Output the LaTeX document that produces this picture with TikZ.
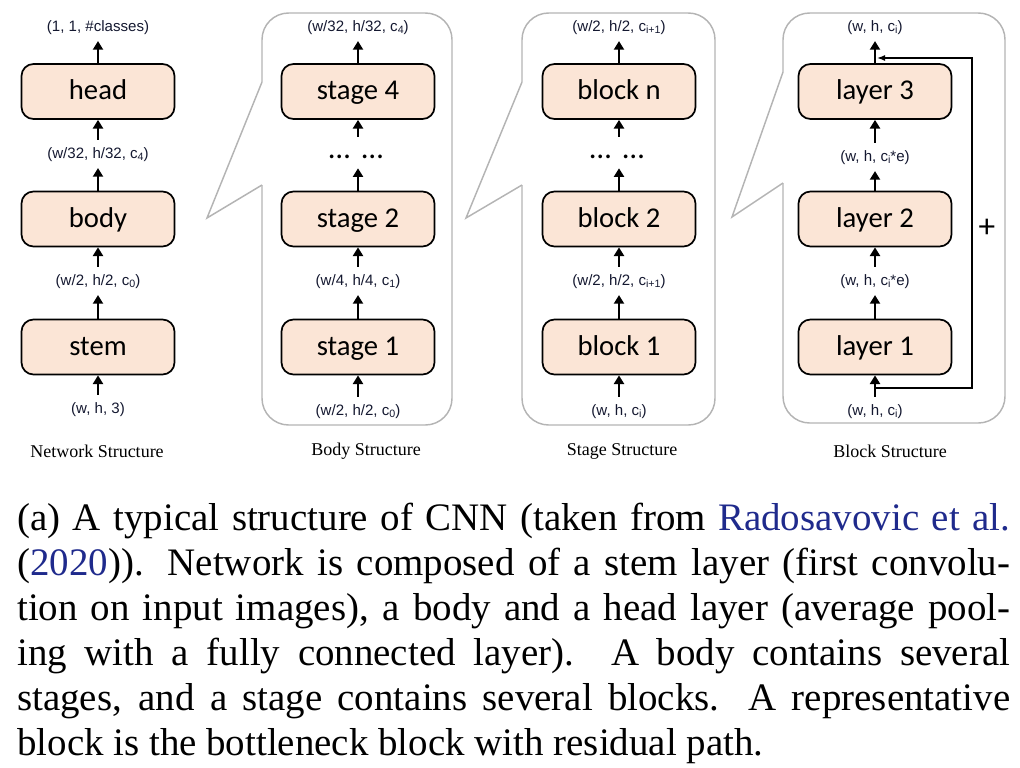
\documentclass[tikz,border=0pt]{standalone}
\usepackage{fontspec}
\setmainfont{Liberation Serif}
\newfontfamily\boxfont{Carlito}
\newfontfamily\labfont{Liberation Sans}
\usetikzlibrary{arrows.meta}
\definecolor{boxfill}{HTML}{FBE5D6}
\definecolor{panelgray}{HTML}{B4B4B4}
\definecolor{labcol}{HTML}{141830}
\definecolor{citeblue}{HTML}{1F2A8C}
\newcommand\lsub[1]{\raisebox{-0.25ex}{\fontsize{8}{9}\selectfont #1}}
\begin{document}
\begin{tikzpicture}[x=0.75pt,y=-0.75pt,
  stagebox/.style={draw=black, line width=1.3pt, fill=boxfill, rounded corners=9pt,
    minimum width=114.75pt, minimum height=41.25pt, inner sep=0pt,
    text height=14pt, text depth=1.5pt,
    font=\boxfont\fontsize{21.5}{24}\selectfont},
  dimlabel/.style={inner sep=0pt, text height=8pt, text depth=2.2pt,
    font=\labfont\fontsize{11.3}{13}\selectfont, text=labcol},
  dotsnode/.style={inner sep=0pt, text height=6pt, text depth=0pt, anchor=base,
    font=\boxfont\fontsize{23}{26}\selectfont},
  flow/.style={line width=2.2pt, -{Triangle[width=7.5pt,length=6.5pt]}},
  fromlab/.style={shorten <=6pt},
  tolab/.style={shorten >=4.5pt},
  fromdots/.style={shorten <=9.75pt},
  todots/.style={shorten >=7.5pt},
  panel/.style={draw=panelgray, line width=1.1pt},
  resid/.style={line width=1.1pt, -{Latex[length=6pt,width=4.5pt]}},
  title/.style={inner sep=0pt, font=\fontsize{13.5}{16}\selectfont},
]
\useasboundingbox (0,0) rectangle (1020,767);

% ---------- panels ----------
\draw[panel, rounded corners=20pt] (262,82) -- (262,13) -- (452,13) -- (452,425) -- (262,425) -- (262,185);
\draw[panel, line join=miter] (262,185) -- (207,218) -- (262,82);
\draw[panel, rounded corners=20pt] (522,82) -- (522,13) -- (715,13) -- (715,425) -- (522,425) -- (522,185);
\draw[panel, line join=miter] (522,185) -- (466,218) -- (522,82);
\draw[panel, rounded corners=20pt] (783,72) -- (783,13) -- (1005,13) -- (1005,423) -- (783,423) -- (783,183);
\draw[panel, line join=miter] (783,183) -- (732,217) -- (783,72);

% ---------- network structure ----------
\node[stagebox] (head) at (98,91.5) {head};
\node[stagebox] (body) at (98,219) {body};
\node[stagebox] (stem) at (98,347) {stem};
\node[dimlabel] (n0) at (98,410) {(w, h, 3)};
\node[dimlabel] (n1) at (98,282) {(w/2, h/2, c\lsub{0})};
\node[dimlabel] (n2) at (98,155) {(w/32, h/32, c\lsub{4})};
\node[dimlabel] (n3) at (98,28) {(1, 1, \#classes)};
\draw[flow, fromlab] (n0) -- (stem);
\draw[flow, tolab] (stem) -- (n1);
\draw[flow, fromlab] (n1) -- (body);
\draw[flow, tolab] (body) -- (n2);
\draw[flow, fromlab] (n2) -- (head);
\draw[flow, tolab] (head) -- (n3);
\node[title] (t1) at (97,451) {Network Structure};

% ---------- body structure ----------
\node[stagebox] (s4) at (358,91.5) {stage 4};
\node[stagebox] (s2) at (358,219) {stage 2};
\node[stagebox] (s1) at (358,347) {stage 1};
\node[dimlabel] (b0) at (358,412) {(w/2, h/2, c\lsub{0})};
\node[dimlabel] (b1) at (358,282) {(w/4, h/4, c\lsub{1})};
\node[dotsnode] (bd) at (356,158) {\ldots\hspace{9pt}\ldots};
\node[dimlabel] (b3) at (358,28) {(w/32, h/32, c\lsub{4})};
\draw[flow, fromlab] (b0) -- (s1);
\draw[flow, tolab] (s1) -- (b1);
\draw[flow, fromlab] (b1) -- (s2);
\draw[flow, todots] (s2) -- (s2 |- bd.south);
\draw[flow, fromdots] (s4 |- bd.north) -- (s4);
\draw[flow, tolab] (s4) -- (b3);
\node[title] (t2) at (366,451) {Body Structure};

% ---------- stage structure ----------
\node[stagebox] (kn) at (619,91.5) {block n};
\node[stagebox] (k2) at (619,219) {block 2};
\node[stagebox] (k1) at (619,347) {block 1};
\node[dimlabel] (g0) at (619,412) {(w, h, c\lsub{i})};
\node[dimlabel] (g1) at (619,282) {(w/2, h/2, c\lsub{i+1})};
\node[dotsnode] (gd) at (617,158) {\ldots\hspace{9pt}\ldots};
\node[dimlabel] (g3) at (619,28) {(w/2, h/2, c\lsub{i+1})};
\draw[flow, fromlab] (g0) -- (k1);
\draw[flow, tolab] (k1) -- (g1);
\draw[flow, fromlab] (g1) -- (k2);
\draw[flow, todots] (k2) -- (k2 |- gd.south);
\draw[flow, fromdots] (kn |- gd.north) -- (kn);
\draw[flow, tolab] (kn) -- (g3);
\node[title] (t3) at (622,451) {Stage Structure};

% ---------- block structure ----------
\node[stagebox] (y3) at (875,91.5) {layer 3};
\node[stagebox] (y2) at (875,219) {layer 2};
\node[stagebox] (y1) at (875,347) {layer 1};
\node[dimlabel] (k0l) at (875,412) {(w, h, c\lsub{i})};
\node[dimlabel] (k1l) at (875,282) {(w, h, c\lsub{i}*e)};
\node[dimlabel] (k2l) at (875,158) {(w, h, c\lsub{i}*e)};
\node[dimlabel] (k3l) at (875,28) {(w, h, c\lsub{i})};
\draw[flow, fromlab] (k0l) -- (y1);
\draw[flow, tolab] (y1) -- (k1l);
\draw[flow, fromlab] (k1l) -- (y2);
\draw[flow, tolab] (y2) -- (k2l);
\draw[flow, fromlab] (k2l) -- (y3);
\draw[flow, tolab] (y3) -- (k3l);
\coordinate (rs) at (875,388);
\coordinate (rc) at (972,58);
\coordinate (rt) at (877,58);
\draw[resid] (rs) -| (rc) -- (rt);
\node[inner sep=0pt, font=\boxfont\fontsize{25}{28}\selectfont] (plus) at (987,228) {+};
\node[title] (t4) at (890,451) {Block Structure};

% ---------- caption ----------
\node[anchor=base west, inner sep=0pt, text width=744.75pt, align=justify,
      font=\fontsize{29.2}{33.75}\selectfont] (cap) at (17,530)
{(a) A typical structure of CNN (taken from \textcolor{citeblue}{Radosavovic et al.}\linebreak
(\textcolor{citeblue}{2020})). Network is composed of a stem layer (first convolu-\linebreak
tion on input images), a body and a head layer (average pool-\linebreak
ing with a fully connected layer). A body contains several\linebreak
stages, and a stage contains several blocks. A representative\linebreak
block is the bottleneck block with residual path.};
\end{tikzpicture}
\end{document}
